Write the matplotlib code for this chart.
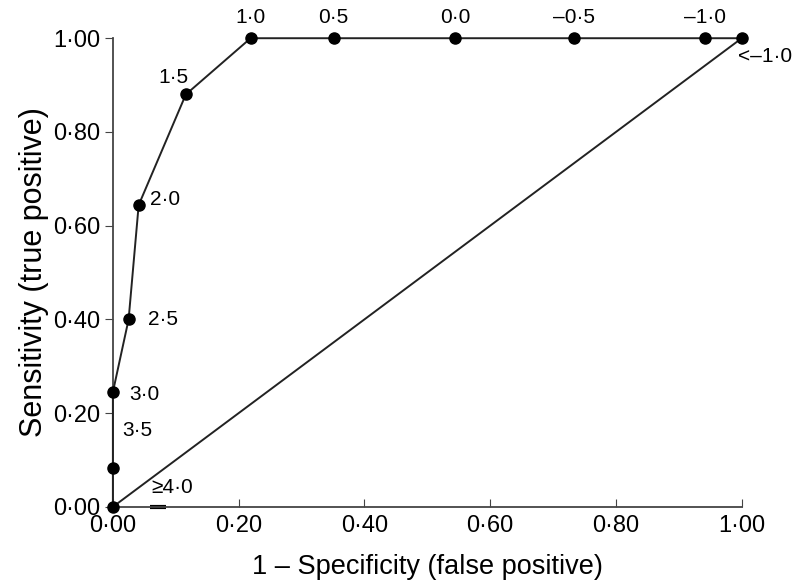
import matplotlib.pyplot as plt

plt.rcParams['font.family'] = ['Liberation Sans', 'DejaVu Sans']

# ROC-Kurve: Werte
fpr = [0.0, 0.0, 0.0, 0.025, 0.041, 0.116, 0.219, 0.351, 0.544, 0.734, 0.941, 1.0]
tpr = [0.0, 0.083, 0.245, 0.40, 0.644, 0.88, 1.0, 1.0, 1.0, 1.0, 1.0, 1.0]
cutoffs = ['≥4·0', '3·5', '3·0', '2·5', '2·0', '1·5', '1·0', '0·5', '0·0', '–0·5', '–1·0', '<–1·0']

# Versatz der Beschriftungen (Punkte)
offsets = [(28, 14), (6.5, 27), (12, -2), (14, 0), (8, 4), (2, 12), (0, 15),
           (0, 15), (0, 15), (0, 15), (0, 15), (-3, -13)]
aligns = ['left', 'left', 'left', 'left', 'left', 'right', 'center',
          'center', 'center', 'center', 'center', 'left']

fig = plt.figure(figsize=(7.95, 5.88), dpi=100)
ax = fig.add_axes([0.142, 0.138, 0.791, 0.797])

ax.plot([0, 1], [0, 1], color='#222222', lw=1.4, clip_on=False)
ax.plot(fpr, tpr, color='#222222', lw=1.4, marker='o', markersize=8,
        markerfacecolor='black', markeredgecolor='black', clip_on=False, zorder=3)
ax.plot([0.072], [0.0], marker='_', markersize=11, markeredgewidth=3,
        color='black', clip_on=False)

for x, y, lab, off, ha in zip(fpr, tpr, cutoffs, offsets, aligns):
    ax.annotate(lab, (x, y), xytext=off, textcoords='offset points',
                ha=ha, va='center', fontsize=15)

ax.set_xlim(0, 1)
ax.set_ylim(0, 1)
ticks = [0, 0.2, 0.4, 0.6, 0.8, 1.0]
ticklabels = ['0·00', '0·20', '0·40', '0·60', '0·80', '1·00']
ax.set_xticks(ticks)
ax.set_xticklabels(ticklabels)
ax.set_yticks(ticks)
ax.set_yticklabels(ticklabels)
ax.tick_params(axis='x', direction='in', length=6, labelsize=17, pad=6, color='#444444')
ax.tick_params(axis='y', direction='out', length=6, labelsize=17, pad=3, color='#444444')

for s in ['top', 'right']:
    ax.spines[s].set_visible(False)
for s in ['left', 'bottom']:
    ax.spines[s].set_color('#444444')
    ax.spines[s].set_linewidth(1.3)

ax.set_xlabel('1 – Specificity (false positive)', fontsize=19.5, labelpad=12)
ax.set_ylabel('Sensitivity (true positive)', fontsize=22, labelpad=3)

plt.savefig('out.png', dpi=100)
